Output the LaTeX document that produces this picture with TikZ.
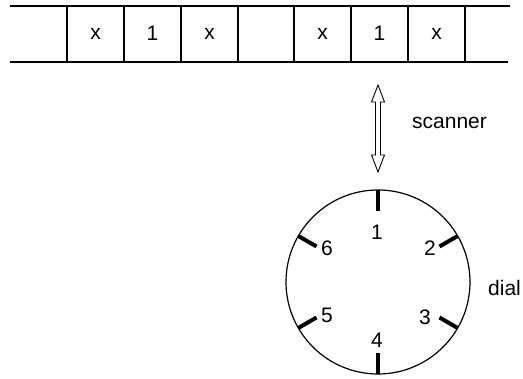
\documentclass[tikz,border=0pt]{standalone}
\usepackage{fontspec}
\setmainfont{Liberation Sans}
\usetikzlibrary{calc}
\begin{document}
\begin{tikzpicture}[x=1pt,y=1pt,
  lbl/.style={font=\fontsize{21}{24}\selectfont, inner sep=0pt},
  tape/.style={line width=1.2pt},
  tick/.style={line width=4pt},
  rim/.style={line width=1.2pt}]
\useasboundingbox (0,0) rectangle (523,379);
% tape
\draw[tape] (10,373) -- (510,373);
\draw[tape] (10,317) -- (508,317);
\foreach \xx in {67,124,181,238,294,351,408,465}
  \draw[tape] (\xx,373) -- (\xx,317);
\node[lbl] (c1) at (95.5,345) {x};
\node[lbl] (c2) at (152.5,346) {1};
\node[lbl] (c3) at (209.5,345) {x};
\node[lbl] (c5) at (322.5,345) {x};
\node[lbl] (c6) at (379.5,346) {1};
\node[lbl] (c7) at (436.5,345) {x};
% scanner double arrow
\coordinate (atop) at (378,294);
\coordinate (abot) at (378,207);
\draw[line width=0.9pt]
  (atop) -- ++(-6.5,-17) -- ++(4,0) -- ($(abot)+(-2.5,17)$) -- ++(-4,0) -- (abot)
  -- ++(6.5,17) -- ++(-4,0) -- ($(atop)+(2.5,-17)$) -- ++(4,0) -- cycle;
\node[lbl, anchor=west] (scan) at (412,256) {scanner};
% dial
\node[circle, draw, rim, minimum size=184pt, inner sep=0pt] (dial) at (378,97) {};
\foreach \a in {90,30,-30,-90,210,150}
  \draw[tick] ($(dial.center)+(\a:92)$) -- ($(dial.center)+(\a:71)$);
\node[lbl] (n1) at (377,147) {1};
\node[lbl] (n2) at (430,131) {2};
\node[lbl] (n3) at (425,62) {3};
\node[lbl] (n4) at (377,39) {4};
\node[lbl] (n5) at (327,64) {5};
\node[lbl] (n6) at (327,131) {6};
\node[lbl, anchor=west] (dl) at (488,91) {dial};
\end{tikzpicture}
\end{document}
